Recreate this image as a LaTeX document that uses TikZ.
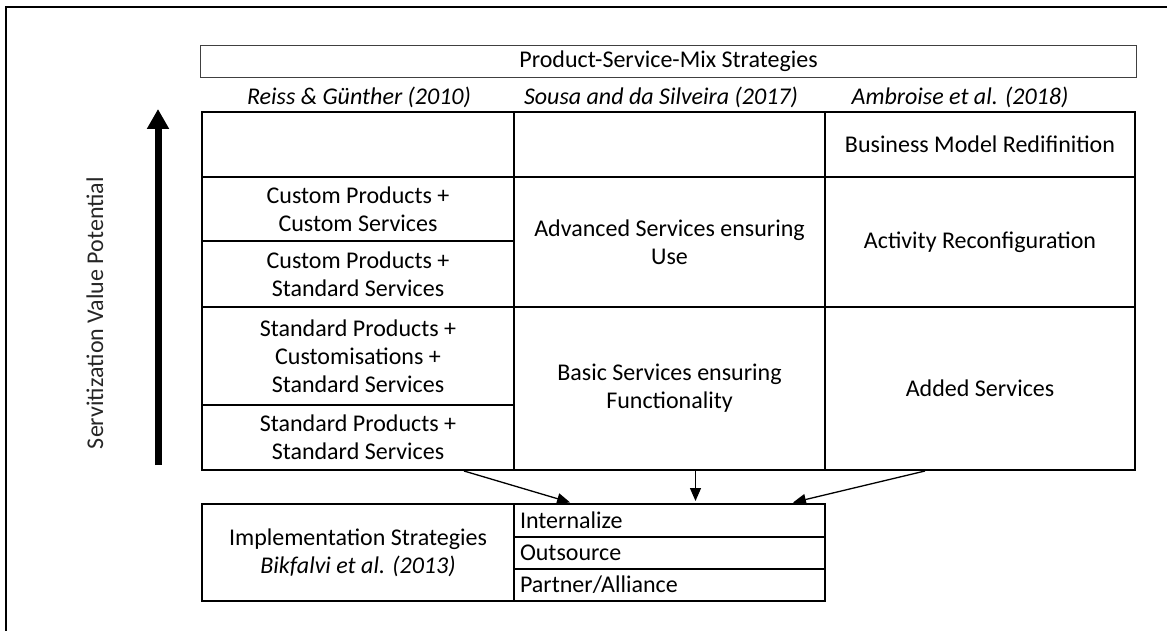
\documentclass[tikz,border=0pt]{standalone}
\usepackage{fontspec}
\setmainfont{Carlito}
\usetikzlibrary{arrows.meta}

\begin{document}
\begin{tikzpicture}[x=1pt, y=-1pt,
   every node/.style={font=\fontsize{24}{28}\selectfont, align=center, inner sep=0pt},
   cell/.style 2 args={draw, line width=2pt, anchor=north west,
                       minimum width=#1pt, minimum height=#2pt},
   opt/.style={draw, line width=2pt, anchor=north west, minimum height=#1pt,
               text width=299pt, inner xsep=6pt, align=left},
   head/.style={font=\fontsize{24}{28}\selectfont\itshape},
   conn/.style={line width=1.3pt, -{Triangle[length=13pt,width=11pt]}, shorten >=2pt}]

\useasboundingbox (0,0) rectangle (1167,631);
\draw[line width=2.5pt] (6,631) -- (6,7) -- (1167,7);

% title and sources
\node[draw=black!75, line width=1.2pt, anchor=north west,
      minimum width=936pt, minimum height=32pt] (title) at (200,45)
      {Product-Service-Mix Strategies};
\node[head] (src1) at (359,97) {Reiss \& Günther (2010)};
\node[head] (src2) at (661,97) {Sousa and da Silveira (2017)};
\node[head] (src3) at (960,97) {Ambroise et al. (2018)};

% strategy grid
\node[cell={312}{65}]  (a0) at (201,111) {};
\node[cell={312}{64}]  (a1) at (201,176) {Custom Products +\\Custom Services};
\node[cell={312}{66}]  (a2) at (201,240) {Custom Products +\\Standard Services};
\node[cell={312}{98}]  (a3) at (201,306) {Standard Products +\\Customisations +\\Standard Services};
\node[cell={312}{65}]  (a4) at (201,404) {Standard Products +\\Standard Services};
\node[cell={311}{65}]  (b0) at (513,111) {};
\node[cell={311}{130}] (b1) at (513,176) {Advanced Services ensuring\\Use};
\node[cell={311}{163}] (b2) at (513,306) {Basic Services ensuring\\Functionality};
\node[cell={310}{65}]  (c0) at (824,111) {Business Model Redifinition};
\node[cell={310}{130}] (c1) at (824,176) {Activity Reconfiguration};
\node[cell={310}{163}] (c2) at (824,306) {Added Services};

% value potential
\coordinate (vbot) at (158,465);
\coordinate (vtop) at (158,109);
\draw[line width=7pt, -{Triangle[length=20pt,width=21pt]}] (vbot) -- (vtop);
\node[rotate=90, text=black!85] (vlabel) at (95,313) {Servitization Value Potential};

% implementation
\node[cell={312}{97}] (impl) at (201,503)
      {Implementation Strategies\\\textit{Bikfalvi et al. (2013)}};
\node[opt=33] (intl) at (513,503) {Internalize};
\node[opt=32] (outs) at (513,536) {Outsource};
\node[opt=32] (part) at (513,568) {Partner/Alliance};

\draw[conn] ([xshift=-51pt]a4.south east) -- ([xshift=59pt]intl.north west);
\draw[conn] ([xshift=26pt]b2.south) -- ([xshift=26pt]intl.north);
\draw[conn] ([xshift=101pt]c2.south west) -- ([xshift=-35pt]intl.north east);

\end{tikzpicture}
\end{document}
